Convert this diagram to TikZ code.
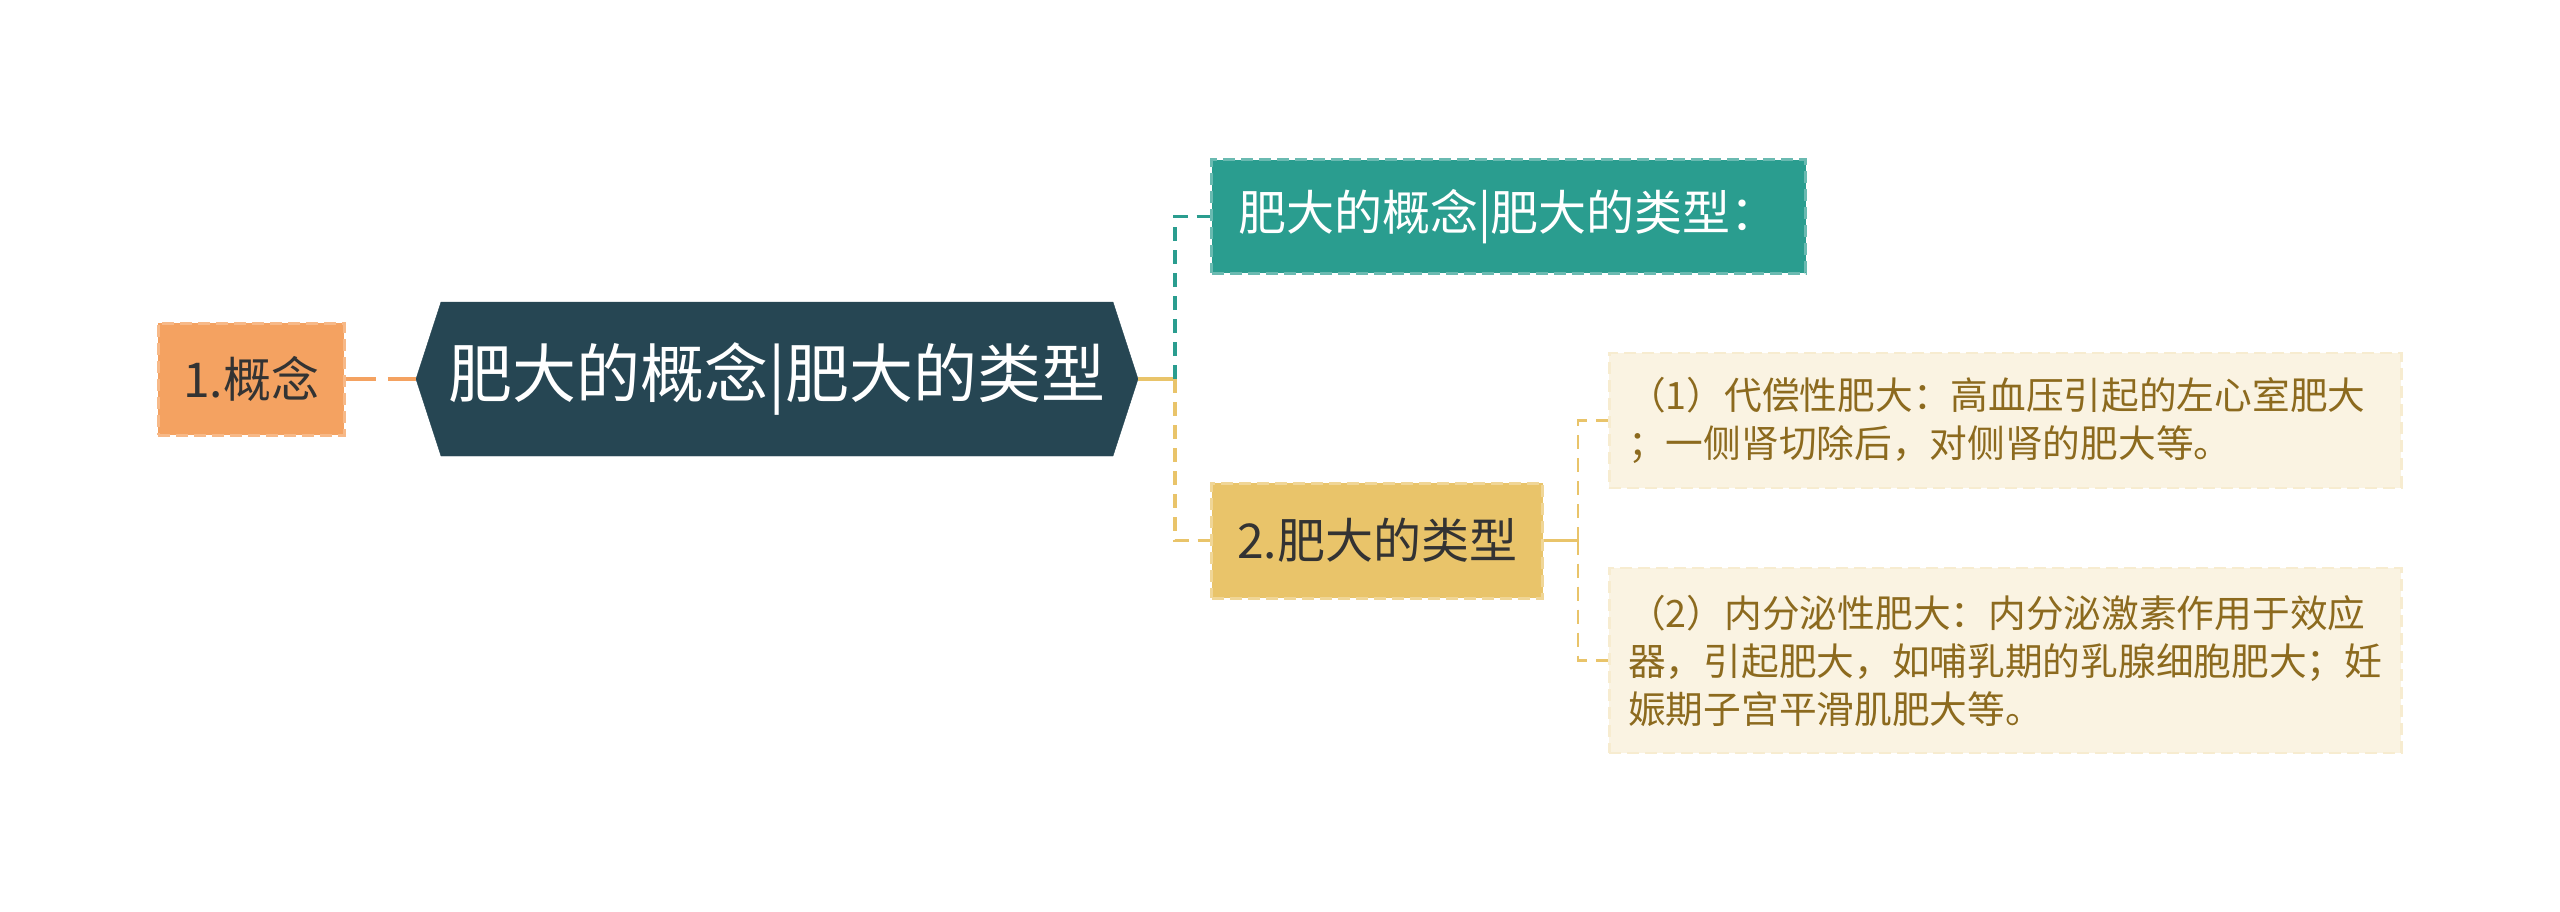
\documentclass[tikz,border=0pt]{standalone}
\usepackage{fontspec}
\setmainfont{Noto Sans CJK SC}
\usetikzlibrary{positioning, shapes.symbols}
\definecolor{rootC}{HTML}{264653}
\definecolor{tealC}{HTML}{2A9D8F}
\definecolor{sandC}{HTML}{E9C46A}
\definecolor{orangeC}{HTML}{F4A261}
\definecolor{creamC}{HTML}{FAF3E2}
\definecolor{brownC}{HTML}{8C6A1E}
\definecolor{inkC}{HTML}{333333}

\begin{document}
\begin{tikzpicture}[
        x=1pt, y=1pt,
        hexa/.style={signal, signal to=west and east, signal pointer angle=144, fill=rootC, draw=rootC,
            minimum width=722pt, minimum height=154pt, inner sep=0pt, text=white,
            font=\fontsize{64pt}{70pt}\selectfont},
        topic/.style={draw, line width=3pt, dash pattern=on 12pt off 6pt, minimum height=113pt, inner sep=0pt,
            font=\fontsize{48pt}{56pt}\selectfont},
        leaf/.style={draw=sandC!15!creamC, fill=creamC, line width=2.5pt, dash pattern=on 12pt off 6pt,
            minimum width=792pt, inner xsep=19pt, inner ysep=0pt, text width=754pt, align=left, text=brownC,
            font=\fontsize{37.7pt}{48pt}\selectfont},
        link/.style={line width=3.5pt, dash pattern=on 14pt off 9pt}
    ]
    \useasboundingbox[fill=white] (0,0) rectangle (2560,-912);

    % centre
    \node[hexa] (root) at (777,-379) {肥大的概念|肥大的类型};
    \node[topic, fill=orangeC, draw=orangeC!75!white, text=inkC, minimum width=186pt, minimum height=112pt,
        left=70pt of root] (concept) {1.概念};

    % right branch
    \node[topic, fill=tealC, draw=tealC!70!white, text=white, minimum width=594pt, anchor=west]
        (def) at (1210,-216.5) {肥大的概念|肥大的类型：};
    \node[topic, fill=sandC, draw=sandC!70!white, text=inkC, minimum width=331pt, minimum height=115pt, anchor=west]
        (types) at (1210,-540.5) {2.肥大的类型};

    % leaves
    \node[leaf, minimum height=135pt, anchor=west] (comp) at (1608,-420.5)
        {（1）代偿性肥大：高血压引起的左心室肥大\\；一侧肾切除后，对侧肾的肥大等。};
    \node[leaf, minimum height=185pt, anchor=west] (endo) at (1608,-660.5)
        {（2）内分泌性肥大：内分泌激素作用于效应\\器，引起肥大，如哺乳期的乳腺细胞肥大；妊\\娠期子宫平滑肌肥大等。};

    % connectors
    \draw[link, orangeC, line width=4pt, dash pattern=on 30pt off 12pt] (concept.east) -- (root.west);
    \draw[line width=4pt, sandC] (root.east) -- ++(37,0) coordinate (fork);
    \draw[link, tealC] (fork) |- (def.west);
    \draw[link, sandC] (fork) |- (types.west);
    \draw[sandC, line width=2.5pt] (types.east) -- ++(34,0) coordinate (fork2);
    \draw[link, sandC, line width=2.5pt] (fork2) |- (comp.west);
    \draw[link, sandC, line width=2.5pt] (fork2) |- (endo.west);
\end{tikzpicture}
\end{document}
